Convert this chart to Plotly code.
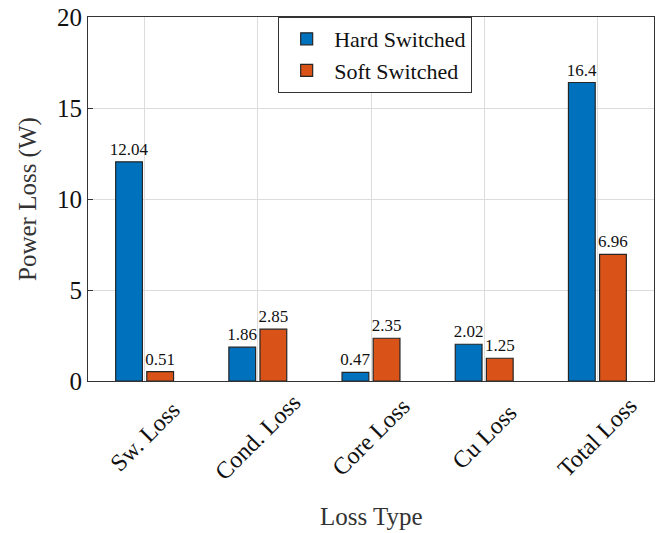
import plotly.graph_objects as go

categories = ["Sw. Loss", "Cond. Loss", "Core Loss", "Cu Loss", "Total Loss"]
hard_switched = [12.04, 1.86, 0.47, 2.02, 16.4]
soft_switched = [0.51, 2.85, 2.35, 1.25, 6.96]
hard_labels = ["12.04", "1.86", "0.47", "2.02", "16.4"]
soft_labels = ["0.51", "2.85", "2.35", "1.25", "6.96"]
y_ticks = [0, 5, 10, 15, 20]

FONT = "Liberation Serif"

fig = go.Figure()
fig.add_trace(go.Bar(
    x=categories, y=hard_switched, name="Hard Switched",
    marker=dict(color="#0072BD", line=dict(color="#262626", width=1.2)),
    text=hard_labels, textposition="outside", cliponaxis=False, constraintext="none",
    textfont=dict(family=FONT, size=17, color="#111"),
))
fig.add_trace(go.Bar(
    x=categories, y=soft_switched, name="Soft Switched",
    marker=dict(color="#D95319", line=dict(color="#262626", width=1.2)),
    text=soft_labels, textposition="outside", cliponaxis=False, constraintext="none",
    textfont=dict(family=FONT, size=17, color="#111"),
))

annotations = []
for c in categories:
    annotations.append(dict(
        x=c, xref="x", y=-0.154, yref="paper",
        text=c, showarrow=False, textangle=-45,
        xanchor="center", yanchor="middle",
        font=dict(family=FONT, size=24, color="#111"),
    ))
annotations.append(dict(
    x=0.5, xref="paper", y=-0.372, yref="paper", text="Loss Type",
    showarrow=False, xanchor="center", yanchor="middle",
    font=dict(family=FONT, size=25, color="#333"),
))
annotations.append(dict(
    x=-0.106, xref="paper", y=0.5, yref="paper", text="Power Loss (W)",
    showarrow=False, textangle=-90, xanchor="center", yanchor="middle",
    font=dict(family=FONT, size=25, color="#333"),
))

fig.update_layout(
    width=666, height=533,
    margin=dict(l=88, r=12, t=17, b=152),
    paper_bgcolor="white", plot_bgcolor="white",
    font=dict(family=FONT, color="#262626"),
    barmode="group", bargap=0.45, bargroupgap=0.14,
    showlegend=True,
    legend=dict(
        x=0.336, y=1.0, xanchor="left", yanchor="top",
        bgcolor="white", bordercolor="#333", borderwidth=1,
        font=dict(family=FONT, size=22, color="#111"),
        tracegroupgap=0, itemwidth=45,
    ),
    annotations=annotations,
    xaxis=dict(
        range=[-0.5, 4.5], automargin=False, showticklabels=False,
        showgrid=True, gridcolor="#dcdcdc", gridwidth=1,
        showline=True, linecolor="#333", linewidth=1, mirror=True,
        ticks="",
    ),
    yaxis=dict(
        range=[0, 20], tickvals=y_ticks, automargin=False,
        tickfont=dict(family=FONT, size=25, color="#111"),
        showgrid=True, gridcolor="#dcdcdc", gridwidth=1,
        showline=True, linecolor="#333", linewidth=1, mirror=True,
        ticks="inside", ticklen=5, tickcolor="#333",
        zeroline=False,
    ),
)

fig.write_html(
    "out.html",
    config={"displayModeBar": False},
    post_script="document.body.style.margin='0';document.body.style.overflow='hidden';",
)
